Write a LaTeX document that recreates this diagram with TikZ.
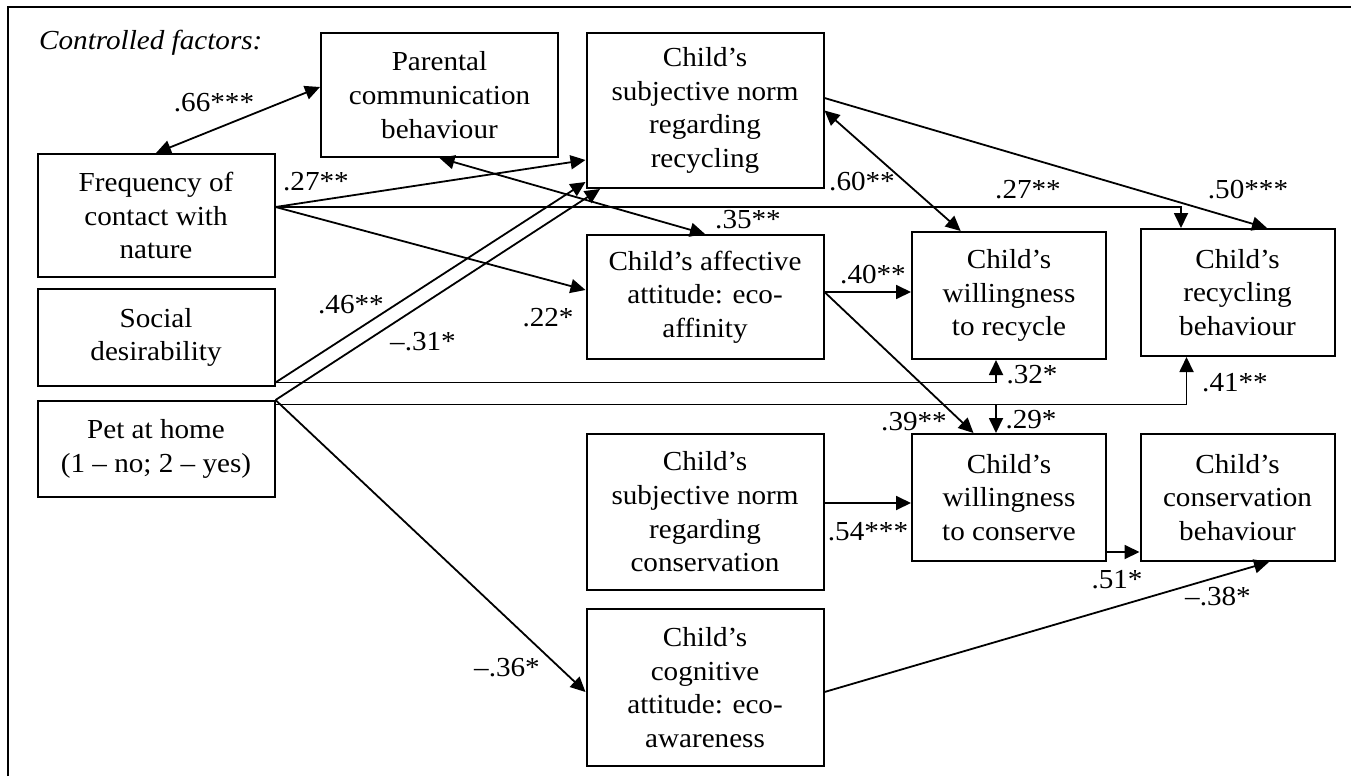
\documentclass[tikz,border=0pt]{standalone}
\usepackage{fontspec}
\setmainfont{Liberation Serif}[FakeStretch=1.06]
\usepackage{tikz}
\usetikzlibrary{calc,arrows.meta}

\begin{document}
\begin{tikzpicture}[x=1pt,y=-1pt,
    var/.style={draw,line width=2pt,inner sep=0pt,align=center,font=\fontsize{27.5pt}{33.7pt}\selectfont},
    wide/.style={var,minimum width=237pt},
    narrow/.style={var,minimum width=194pt},
    coef/.style={inner sep=0pt,font=\fontsize{27.5pt}{33.7pt}\selectfont},
    arr/.style={-{Triangle[length=15pt,width=14pt]},line width=1.8pt},
    darr/.style={{Triangle[length=15pt,width=14pt]}-{Triangle[length=15pt,width=14pt]},line width=1.8pt}]
   \useasboundingbox (0,0) rectangle (1351,776);
   \draw[line width=2.2pt] (8,776) -- (8,7) -- (1351,7);
   \node[coef,anchor=base west] (ctl) at (39,50) {\itshape Controlled factors:};
   % variables
   \node[wide,minimum height=124pt]   (par) at (439.5,95)    {Parental\\communication\\behaviour};
   \node[wide,minimum height=155pt]   (snr) at (705,110.5)   {Child's\\subjective norm\\regarding\\recycling};
   \node[wide,minimum height=123pt]   (fcn) at (156,215.5)   {Frequency of\\contact with\\nature};
   \node[wide,minimum height=97pt]    (soc) at (156,337.5)   {Social\\desirability};
   \node[wide,minimum height=96pt]    (pet) at (156,449)     {Pet at home\\(1 -- no; 2 -- yes)};
   \node[wide,minimum height=124pt]   (aff) at (705,297)     {Child's affective\\attitude: eco-\\affinity};
   \node[narrow,minimum height=127pt] (wrc) at (1009,295.5)  {Child's\\willingness\\to recycle};
   \node[narrow,minimum height=127pt] (rcb) at (1237.5,292.5) {Child's\\recycling\\behaviour};
   \node[wide,minimum height=156pt]   (snc) at (705,512)     {Child's\\subjective norm\\regarding\\conservation};
   \node[narrow,minimum height=127pt] (wcs) at (1009,497.5)  {Child's\\willingness\\to conserve};
   \node[narrow,minimum height=127pt] (csb) at (1237.5,497.5) {Child's\\conservation\\behaviour};
   \node[wide,minimum height=157pt]   (cog) at (705,687.5)   {Child's\\cognitive\\attitude: eco-\\awareness};
   % start points
   \coordinate (fo)  at ([yshift=8.5pt]fcn.east);
   \coordinate (so)  at ([yshift=-45pt]soc.east);
   \coordinate (po)  at ([yshift=44.5pt]pet.east);
   \coordinate (ao)  at ([yshift=5pt]aff.east);
   \coordinate (nco) at ([yshift=9pt]snc.east);
   \coordinate (wco) at ([yshift=-54.5pt]wcs.east);
   % paths
   \draw[darr] (fcn.north) -- ([yshift=8pt]par.west);
   \draw[arr] (fo) -- ([yshift=-49.5pt]snr.west);
   \draw[arr] (fo) -| ([xshift=-56.5pt]rcb.north);
   \draw[arr] (fo) -- ([yshift=7pt]aff.west);
   \draw[darr] (par.south) -- (aff.north);
   \draw[arr] (so) -- ([yshift=-71.5pt]snr.west);
   \draw[arr] (pet.north east) -- ([xshift=-105pt]snr.south);
   \draw[arr] (so) -| ([xshift=-13pt]wrc.south);
   \draw[arr] (po) -| ([xshift=-51pt]rcb.south);
   \draw[arr] (po) -| ([xshift=-13pt]wcs.north);
   \draw[darr] (snr.east) -- ([xshift=-48.3pt]wrc.north);
   \draw[arr] ([yshift=12.5pt]snr.east) -- ([xshift=29.5pt]rcb.north);
   \draw[arr] (ao) -- (ao -| wrc.west);
   \draw[arr] (ao) -- ([xshift=-35.5pt]wcs.north);
   \draw[arr] (nco) -- (nco -| wcs.west);
   \draw[arr] (wco) -- (wco -| csb.west);
   \draw[arr] ([yshift=-4.5pt]cog.east) -- ([xshift=31.5pt]csb.south);
   \draw[arr] (pet.north east) -- ([yshift=-4.5pt]cog.west);
   % coefficients
   \node[coef] (c66)  at (214,103)  {.66***};
   \node[coef] (c27a) at (316,182)  {.27**};
   \node[coef] (c27b) at (1028,190) {.27**};
   \node[coef] (c22)  at (548,318)  {.22*};
   \node[coef] (c35)  at (748,220)  {.35**};
   \node[coef] (c46)  at (351,305)  {.46**};
   \node[coef] (c31)  at (423,342)  {--.31*};
   \node[coef] (c32)  at (1032,375) {.32*};
   \node[coef] (c41)  at (1235,383) {.41**};
   \node[coef] (c60)  at (862,182)  {.60**};
   \node[coef] (c50)  at (1248,190) {.50***};
   \node[coef] (c40)  at (873,275)  {.40**};
   \node[coef] (c39)  at (914,422)  {.39**};
   \node[coef] (c29)  at (1031,420) {.29*};
   \node[coef] (c54)  at (868,532)  {.54***};
   \node[coef] (c51)  at (1117,580) {.51*};
   \node[coef] (c38)  at (1218,597) {--.38*};
   \node[coef] (c36)  at (507,668)  {--.36*};
  \end{tikzpicture}
\end{document}
